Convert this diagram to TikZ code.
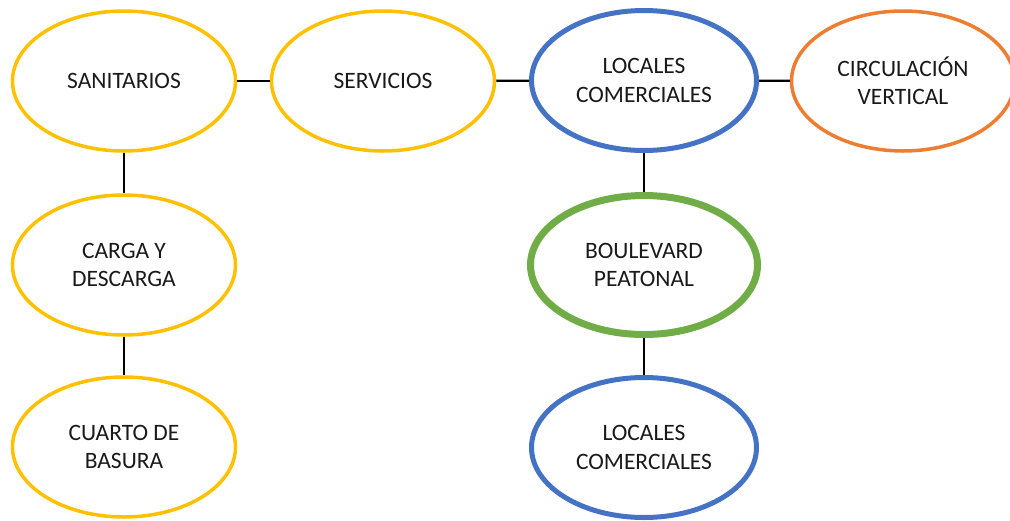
\documentclass[tikz,border=0pt]{standalone}
\usepackage{fontspec}
\setmainfont{Carlito}
\usetikzlibrary{shapes.geometric}
\definecolor{amarillo}{HTML}{FFC000}
\definecolor{azul}{HTML}{4472C4}
\definecolor{verde}{HTML}{70AD47}
\definecolor{naranja}{HTML}{ED7D31}

\begin{document}
\begin{tikzpicture}[x=1pt,y=-1pt,
  zona/.style={ellipse,draw,align=center,inner sep=0pt,
    font=\fontsize{23.5}{28.5}\selectfont,text=black!90},
  amarilla/.style={zona,draw=amarillo,line width=3.5pt,
    minimum width=223pt,minimum height=140pt},
  naranja/.style={zona,draw=naranja,line width=3.5pt,
    minimum width=223pt,minimum height=140pt},
  azul/.style={zona,draw=azul,line width=5pt,
    minimum width=225pt,minimum height=140pt},
  verde/.style={zona,draw=verde,line width=7pt,
    minimum width=227pt,minimum height=139pt},
  enlace/.style={line width=2.2pt}]
\useasboundingbox (0,0) rectangle (1010,520);
\clip (0,0) rectangle (1010,520);

\node[amarilla] (san) at (124,81) {SANITARIOS};
\node[amarilla] (serv) at (383,81) {SERVICIOS};
\node[azul] (loc1) at (644,80.5) {LOCALES\\COMERCIALES};
\node[naranja] (circ) at (903,81) {CIRCULACIÓN\\VERTICAL};

\node[amarilla] (carga) at (124,265) {CARGA Y\\DESCARGA};
\node[verde] (blvd) at (644,265) {BOULEVARD\\PEATONAL};

\node[amarilla] (cuarto) at (124,447) {CUARTO DE\\BASURA};
\node[azul] (loc2) at (644,447.5) {LOCALES\\COMERCIALES};

\draw[enlace] (san) -- (serv);
\draw[enlace] (serv) -- (loc1);
\draw[enlace] (loc1) -- (circ);
\draw[enlace] (san) -- (carga);
\draw[enlace] (carga) -- (cuarto);
\draw[enlace] (loc1) -- (blvd);
\draw[enlace] (blvd) -- (loc2);

\end{tikzpicture}
\end{document}
